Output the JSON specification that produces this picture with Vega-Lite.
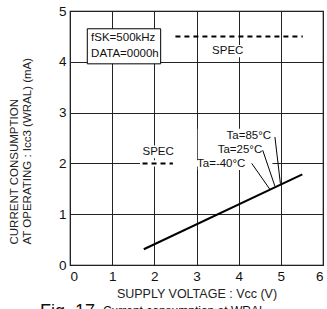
{
  "$schema": "https://vega.github.io/schema/vega-lite/v6.json",
  "width": 253,
  "height": 254,
  "autosize": "none",
  "padding": {"left": 70, "top": 11, "right": 4, "bottom": 44},
  "background": "white",
  "config": {
    "font": "Liberation Sans",
    "view": {"stroke": "black", "strokeWidth": 1.2},
    "axis": {
      "grid": true,
      "gridColor": "#222",
      "gridWidth": 1,
      "gridOpacity": 1,
      "domain": false,
      "ticks": false,
      "labelFont": "Liberation Sans",
      "labelFontSize": 13.5,
      "labelColor": "#111",
      "titleFont": "Liberation Sans",
      "titleFontWeight": "normal",
      "titleColor": "#222"
    }
  },
  "datasets": {
    "curve": [{"v": 1.75, "i": 0.31}, {"v": 5.51, "i": 1.785}],
    "masks": [
      {"v1": 3.34, "v2": 4.15, "i1": 4.09, "i2": 4.33},
      {"v1": 1.66, "v2": 2.5, "i1": 2.1, "i2": 2.35},
      {"v1": 1.66, "v2": 4.25, "i1": 1.94, "i2": 2.06},
      {"v1": 3.03, "v2": 4.8, "i1": 1.87, "i2": 2.68}
    ],
    "spec": [{"v1": 2.5, "v2": 5.52, "i": 4.5}, {"v1": 1.72, "v2": 2.44, "i": 2.0}],
    "box": [{"v1": 0.41, "v2": 2.15, "i1": 3.96, "i2": 4.65}],
    "boxtext": [{"v": 0.5, "i": 4.46, "t": "fSK=500kHz"}, {"v": 0.5, "i": 4.15, "t": "DATA=0000h"}],
    "labels": [
      {"v": 3.74, "i": 4.21, "t": "SPEC"},
      {"v": 2.09, "i": 2.22, "t": "SPEC"}
    ],
    "talabels": [
      {"v": 4.77, "i": 2.54, "t": "Ta=85°C"},
      {"v": 4.56, "i": 2.27, "t": "Ta=25°C"},
      {"v": 4.16, "i": 1.99, "t": "Ta=-40°C"}
    ],
    "leaders": [
      {"v1": 4.86, "i1": 2.52, "v2": 4.99, "i2": 1.6},
      {"v1": 4.57, "i1": 2.26, "v2": 4.86, "i2": 1.55},
      {"v1": 4.31, "i1": 2.0, "v2": 4.74, "i2": 1.49}
    ],
    "caption": [
      {"v": -0.71, "i": -0.74, "t": "Fig. 17", "s": "big"},
      {"v": 0.78, "i": -0.8, "t": "Current consumption at WRAL", "s": "small"}
    ]
  },
  "encoding": {
    "x": {
      "type": "quantitative",
      "scale": {"domain": [0, 6], "nice": false},
      "axis": {"values": [0, 1, 2, 3, 4, 5, 6], "title": "SUPPLY VOLTAGE : Vcc (V)", "titleFontSize": 12.5, "labelPadding": 4, "titlePadding": 5}
    },
    "y": {
      "type": "quantitative",
      "scale": {"domain": [0, 5], "nice": false},
      "axis": {
        "values": [0, 1, 2, 3, 4, 5],
        "title": ["CURRENT CONSUMPTION", "AT OPERATING : Icc3 (WRAL) (mA)"],
        "titleFontSize": 11.5,
        "labelPadding": 4,
        "titleAlign": "left",
        "titleAngle": -90,
        "titleBaseline": "top",
        "titleX": -62,
        "titleY": 233,
        "titleLineHeight": 13
      }
    }
  },
  "layer": [
    {
      "data": {"name": "masks"},
      "mark": {"type": "rect", "fill": "white", "stroke": null},
      "encoding": {"x": {"field": "v1"}, "x2": {"field": "v2"}, "y": {"field": "i1"}, "y2": {"field": "i2"}}
    },
    {
      "data": {"name": "curve"},
      "mark": {"type": "line", "color": "black", "strokeWidth": 2},
      "encoding": {"x": {"field": "v"}, "y": {"field": "i"}}
    },
    {
      "data": {"name": "spec"},
      "mark": {"type": "rule", "color": "black", "strokeWidth": 2, "strokeDash": [5, 4]},
      "encoding": {"x": {"field": "v1"}, "x2": {"field": "v2"}, "y": {"field": "i"}}
    },
    {
      "data": {"name": "box"},
      "mark": {"type": "rect", "fill": "white", "stroke": "black", "strokeWidth": 1},
      "encoding": {"x": {"field": "v1"}, "x2": {"field": "v2"}, "y": {"field": "i1"}, "y2": {"field": "i2"}}
    },
    {
      "data": {"name": "boxtext"},
      "mark": {"type": "text", "align": "left", "baseline": "middle", "fontSize": 11.5, "color": "#111"},
      "encoding": {"x": {"field": "v"}, "y": {"field": "i"}, "text": {"field": "t"}}
    },
    {
      "data": {"name": "labels"},
      "mark": {"type": "text", "align": "center", "baseline": "middle", "fontSize": 11.5, "color": "#111"},
      "encoding": {"x": {"field": "v"}, "y": {"field": "i"}, "text": {"field": "t"}}
    },
    {
      "data": {"name": "talabels"},
      "mark": {"type": "text", "align": "right", "baseline": "middle", "fontSize": 11.5, "color": "#111"},
      "encoding": {"x": {"field": "v"}, "y": {"field": "i"}, "text": {"field": "t"}}
    },
    {
      "data": {"name": "leaders"},
      "mark": {"type": "rule", "color": "black", "strokeWidth": 1},
      "encoding": {"x": {"field": "v1"}, "x2": {"field": "v2"}, "y": {"field": "i1"}, "y2": {"field": "i2"}}
    },
    {
      "data": {"name": "caption"},
      "transform": [{"filter": "datum.s === 'big'"}],
      "mark": {"type": "text", "align": "left", "baseline": "top", "fontSize": 18, "color": "#111", "clip": false},
      "encoding": {"x": {"field": "v"}, "y": {"field": "i"}, "text": {"field": "t"}}
    },
    {
      "data": {"name": "caption"},
      "transform": [{"filter": "datum.s === 'small'"}],
      "mark": {"type": "text", "align": "left", "baseline": "top", "fontSize": 12, "color": "#111", "clip": false},
      "encoding": {"x": {"field": "v"}, "y": {"field": "i"}, "text": {"field": "t"}}
    }
  ]
}
